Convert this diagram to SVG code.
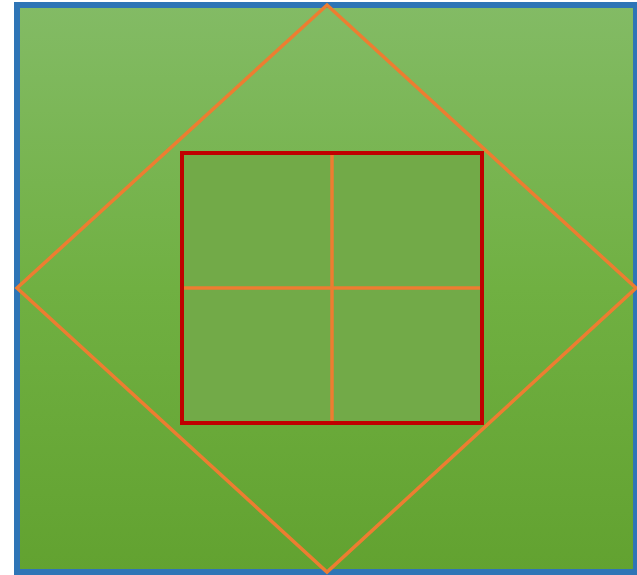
<svg xmlns="http://www.w3.org/2000/svg" width="637" height="575" viewBox="0 0 637 575">
<defs>
<linearGradient id="bg" x1="0" y1="0" x2="0" y2="1">
<stop offset="0" stop-color="#83bb65"/>
<stop offset="0.5" stop-color="#70b042"/>
<stop offset="1" stop-color="#62a230"/>
</linearGradient>
</defs>
<style>
.orange{stroke:#ed7d31;fill:none;stroke-width:3.5}
</style>
<rect width="637" height="575" fill="#ffffff"/>
<g id="frame">
<rect x="17" y="5" width="619" height="567" fill="url(#bg)" stroke="#2e75b6" stroke-width="6"/>
</g>
<g id="diamond">
<polygon class="orange" points="327,5 636,288 327,572 17,288"/>
</g>
<g id="box">
<rect x="182" y="153" width="300" height="270" fill="#72aa48"/>
</g>
<g id="connectors">
<line class="orange" x1="332" y1="153" x2="332" y2="423"/>
<line class="orange" x1="182" y1="288" x2="482" y2="288"/>
</g>
<g id="box-border">
<rect x="182" y="153" width="300" height="270" fill="none" stroke="#c00000" stroke-width="4"/>
</g>
</svg>
